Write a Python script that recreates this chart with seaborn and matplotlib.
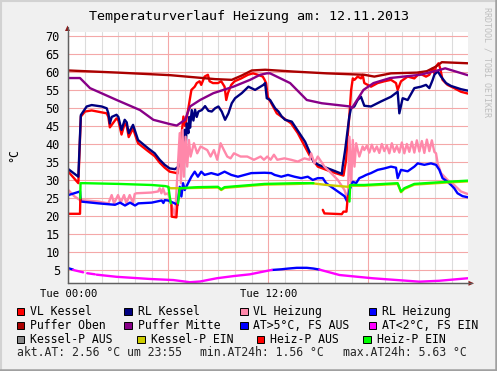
import numpy as np
import pandas as pd
import matplotlib
matplotlib.use("Agg")
import matplotlib.pyplot as plt
import seaborn as sns
from matplotlib.patches import Rectangle, Polygon
from matplotlib.lines import Line2D

nan = np.nan

# ---------------- data (hours since 00:00, temperature °C) ----------------
VL_KESSEL_H = [0, 0.6, 0.75, 1.0, 1.4, 2.3, 2.4, 2.49, 2.89, 3.0, 3.19, 3.38, 3.5, 3.62, 3.88, 4.08, 4.18,
               4.78, 5.18, 5.48, 5.78, 6.08, 6.4, 6.55, 6.65, 6.8, 6.9, 7.0, 7.18, 7.28, 7.38, 7.58, 7.7,
               7.87, 7.97, 8.17, 8.37, 8.47, 8.67, 8.97, 9.17, 9.37, 9.47, 9.57, 9.77, 9.97, 10.37, 10.77,
               11.07, 11.37, 11.66, 11.77, 11.86, 11.96, 12.5, 13.36, 13.76, 14.46, 14.96, 15.76, 16.37,
               16.5, 16.66, 16.75, 16.85, 16.96, 17.06, 17.16, 17.35, 17.55, 17.65, 17.75, 18.15, 18.55,
               18.95, 19.35, 19.65, 19.75, 19.95, 20.35, 20.75, 21.05, 21.45, 21.65, 21.85, 21.95, 22.05,
               22.2, 22.3, 22.44, 22.74, 23.14, 23.54, 23.95]
VL_KESSEL_V = [32.3, 29.1, 47.6, 49.0, 49.3, 48.5, 47.5, 44.6, 47.1, 46.5, 42.6, 45.7, 45.0, 41.9, 44.3, 41.5, 40.2,
               38.0, 36.6, 34.8, 33.4, 32.3, 32.0, 31.8, 36.0, 43.0, 47.6, 45.0, 49.4, 52.2, 55.0, 55.9, 56.9,
               57.4, 56.4, 58.7, 59.2, 57.4, 56.9, 56.9, 57.4, 55.9, 52.2, 54.1, 56.4, 57.4, 58.2, 59.2,
               59.6, 59.2, 58.7, 57.8, 56.9, 53.1, 48.5, 45.7, 43.0, 36.9, 33.7, 32.3, 31.4,
               31.2, 35.6, 42.0, 47.6, 55.0, 58.2, 57.8, 58.7, 58.2, 59.2, 56.9, 55.9, 56.9,
               57.4, 57.8, 56.9, 55.0, 57.4, 58.7, 58.2, 59.6, 58.7, 59.2, 61.0, 59.6, 61.5,
               62.4, 61.0, 57.8, 56.4, 55.5, 54.5, 54.0]

RL_KESSEL_H = [0, 0.6, 0.75, 1.1, 1.4, 2.0, 2.3, 2.4, 2.49, 2.6, 2.89, 3.0, 3.19, 3.38, 3.5, 3.62, 3.88, 4.08,
               4.18, 4.78, 5.18, 5.48, 5.78, 6.08, 6.4, 6.6, 6.7, 6.8, 6.9, 6.98, 7.05, 7.1, 7.2, 7.25, 7.3,
               7.4, 7.5, 7.6, 7.7, 7.8, 8.0, 8.2, 8.4, 8.6, 8.8, 9.0, 9.2, 9.4, 9.6, 9.8, 10.0, 10.4, 10.8,
               11.2, 11.7, 11.8, 11.9, 12.1, 12.4, 12.6, 12.8, 13.0, 13.4, 13.8, 14.2, 14.5, 14.7, 15.0,
               15.8, 16.4, 16.45, 16.6, 16.75, 16.85, 16.95, 17.15, 17.35, 17.55, 17.75, 18.15, 18.75,
               19.35, 19.75, 19.85, 20.05, 20.35, 20.75, 21.15, 21.45, 21.65, 21.85, 21.95, 22.15, 22.35,
               22.65, 22.95, 23.55, 23.95]
RL_KESSEL_V = [33.0, 30.9, 48.0, 50.4, 50.8, 50.4, 49.9, 48.5, 45.7, 47.5, 48.1, 47.5, 43.9, 46.7, 46.0, 43.0, 45.3, 42.5,
               41.1, 38.8, 37.4, 35.6, 34.2, 33.2, 33.0, 33.7, 38.3, 40.2, 41.1, 43.9, 40.0, 45.7, 43.0, 47.5, 44.5,
               49.4, 46.5, 49.5, 47.5, 49.0, 49.4, 50.5, 49.2, 49.0, 49.9, 50.4, 49.0, 46.7, 48.5, 51.3, 52.7, 54.1, 55.9,
               55.0, 56.4, 56.9, 52.7, 52.2, 49.9, 49.0, 47.6, 46.7, 46.2, 43.4, 40.6, 37.4, 35.1, 34.2,
               32.8, 31.7, 33.7, 38.3, 43.9, 47.6, 49.9, 50.4, 52.2, 53.1, 50.6, 50.4, 51.8,
               53.1, 54.5, 48.5, 52.7, 52.2, 55.5, 55.9, 56.4, 55.5, 57.8, 59.2, 60.2, 58.7,
               56.9, 56.1, 55.2, 54.8]

VL_HEIZ_H = [0, 0.35, 0.7, 1.0, 1.8, 2.4, 2.6, 2.74, 2.98, 3.15, 3.34, 3.48, 3.68, 3.88, 3.98, 4.08, 4.98, 5.38,
             5.48, 5.58, 5.68, 5.8, 5.98, 6.1, 6.4, 6.68, 6.75, 6.85, 6.93, 7.03, 7.13, 7.23, 7.33, 7.53, 7.73,
             7.93, 8.33, 8.53, 8.73, 8.93, 9.13, 9.33, 9.53, 9.73, 9.93, 10.33, 10.73, 11.13, 11.53, 11.73,
             11.93, 12.13, 12.33, 12.53, 12.96, 13.36, 13.76, 14.16, 14.46, 14.56, 14.76, 14.96, 15.16, 15.36,
             15.76, 16.16, 16.56, 16.76, 16.86, 16.96, 17.06, 17.16, 17.26, 17.45, 17.65, 17.75, 17.9, 18.05,
             18.2, 18.35, 18.5, 18.65, 18.8, 18.95, 19.1, 19.25, 19.4, 19.55, 19.7, 19.85, 20.0, 20.15, 20.3,
             20.45, 20.6, 20.75, 20.9, 21.05, 21.2, 21.35, 21.5, 21.65, 21.8, 21.95, 22.05, 22.15, 22.35,
             22.74, 23.14, 23.54, 23.95]
VL_HEIZ_V = [27.2, 25.5, 24.4, 24.3, 24.0, 23.5, 25.8, 23.5, 25.8, 23.8, 25.8, 23.5, 25.8, 23.6, 26.1, 26.3, 26.5, 26.8,
             27.7, 26.3, 27.7, 26.0, 26.3, 24.5, 20.0, 43.0, 29.1, 43.9, 30.9, 42.0, 33.7, 41.1, 36.5, 40.2, 37.4,
             39.3, 38.3, 36.5, 38.3, 35.6, 40.2, 38.3, 36.5, 36.0, 37.4, 36.5, 36.5, 35.6, 36.5, 35.6,
             36.5, 35.6, 37.0, 35.6, 36.0, 35.6, 35.1, 36.0, 35.6, 37.4, 34.6, 36.5, 35.1, 33.7,
             31.9, 30.0, 27.2, 24.4, 42.0, 29.1, 41.1, 33.7, 40.2, 36.5, 39.3, 38.3, 39.5, 37.6,
             39.8, 37.9, 39.3, 37.5, 40.0, 38.0, 39.6, 37.4, 40.2, 37.8, 39.4, 37.6, 40.4, 37.4, 40.0,
             37.8, 40.6, 37.6, 41.0, 37.9, 40.8, 37.5, 41.2, 38.0, 41.0, 37.8, 37.4, 34.6, 31.9,
             30.0, 28.6, 26.8, 26.1]

RL_HEIZ_H = [0, 0.7, 0.75, 1.8, 2.8, 3.1, 3.4, 3.7, 4.0, 4.2, 5.0, 5.6, 5.7, 5.78, 5.98, 6.38, 6.55, 6.68, 6.78,
             6.88, 6.98, 7.18, 7.38, 7.58, 7.77, 7.97, 8.17, 8.57, 8.97, 9.37, 9.77, 10.17, 10.57, 10.97, 11.77,
             12.17, 12.37, 12.77, 13.17, 13.56, 13.96, 14.36, 14.66, 14.96, 15.26, 15.46, 15.76, 16.16, 16.56,
             16.72, 16.86, 17.06, 17.26, 17.45, 17.65, 17.86, 18.15, 18.55, 18.95, 19.35, 19.65, 19.75, 19.95,
             20.35, 20.75, 20.95, 21.35, 21.75, 22.05, 22.25, 22.44, 22.74, 22.95, 23.14, 23.34, 23.64, 23.95]
RL_HEIZ_V = [25.8, 26.8, 24.0, 23.5, 23.1, 23.7, 22.9, 23.7, 22.9, 23.5, 23.7, 24.3, 23.6, 24.4, 24.3, 23.5, 23.0, 28.1, 25.4,
             29.1, 27.2, 29.1, 30.9, 32.3, 30.9, 32.3, 31.4, 31.9, 31.4, 32.3, 31.4, 30.9, 31.4, 31.9, 32.0,
             31.9, 31.4, 30.9, 31.4, 30.9, 30.5, 30.9, 30.0, 30.5, 30.5, 29.1, 28.1, 26.8, 25.5,
             24.0, 27.2, 29.5, 29.1, 30.5, 30.9, 31.4, 31.9, 32.8, 33.2, 33.7, 33.4, 30.5, 32.8,
             32.4, 33.7, 34.6, 34.2, 34.6, 34.2, 32.8, 30.5, 29.5, 28.6, 27.7, 26.3, 25.5, 25.2]

PUFFER_OBEN_H = [0, 3.0, 6.1, 8.8, 9.8, 10.4, 11.0, 11.8, 13.5, 15.5, 17.75, 18.35, 19.35, 20.9, 21.5, 22.05, 22.4, 23.95]
PUFFER_OBEN_V = [60.4, 59.8, 59.1, 58.0, 57.8, 59.0, 60.4, 60.6, 60.1, 59.6, 59.2, 58.7, 59.6, 59.8, 60.2, 61.5, 62.7, 62.4]

PUFFER_MITTE_H = [0, 0.7, 1.3, 2.9, 4.3, 5.1, 6.1, 6.5, 7.0, 7.3, 7.9, 8.7, 9.9, 10.9, 11.5, 11.9, 12.1, 13.3, 14.3,
                  15.2, 16.9, 17.0, 17.7, 18.3, 19.3, 21.1, 22.3, 22.6, 23.95]
PUFFER_MITTE_V = [58.3, 58.3, 55.5, 52.2, 49.4, 46.7, 45.5, 45.1, 46.7, 50.4, 52.2, 54.1, 55.9, 57.8, 59.2, 59.6, 59.6, 56.9, 52.2,
                  51.3, 50.4, 49.9, 55.0, 56.9, 58.3, 59.2, 60.6, 61.0, 59.1]

AT_WARM_H = [0, 0.29, nan, 12.2, 12.5, 12.8, 13.2, 13.7, 14.3, 14.7, 15.06]
AT_WARM_V = [5.5, 5.1, nan, 5.0, 5.1, 5.2, 5.4, 5.6, 5.6, 5.4, 5.1]

AT_COLD_H = [0.29, 0.89, nan, 1.13, 1.59, nan, 1.69, 2.9, 4.9, 6.3, 7.3, 7.9, 8.9, 9.9, 10.9, 11.96, 12.2, nan,
             15.06, 16.26, 18.25, 21.05, 22.24, 23.95]
AT_COLD_V = [5.0, 4.35, nan, 4.1, 3.8, nan, 3.7, 3.1, 2.5, 2.2, 1.6, 1.8, 2.7, 3.3, 3.8, 4.8, 5.0, nan,
             5.1, 3.6, 2.7, 1.75, 2.0, 2.7]

KESSELP_EIN_H = [6.0, 6.14, 6.58, 6.68, 7.77, 8.97, 9.17, 9.37, 11.77, 13.76, 14.56, 15.5, 16.76, 16.9, 17.75,
                 19.75, 19.95, 20.15, 20.75, 22.74, 23.95]
KESSELP_EIN_V = [27.9, 27.7, 27.7, 27.7, 27.8, 27.9, 27.2, 27.8, 28.7, 28.9, 29.1, 28.6, 28.1, 28.4, 28.4,
                 28.9, 26.6, 27.5, 28.7, 29.3, 29.6]

HEIZP_AUS_H = [0, 0.7, 0.72, nan, 6.18, 6.2, 6.48, 6.54, nan, 15.26, 15.36, 16.4, 16.5, 16.68, 16.76]
HEIZP_AUS_V = [20.6, 20.6, 24.9, nan, 23.1, 19.8, 19.6, 23.5, nan, 21.7, 20.7, 20.5, 21.2, 21.2, 25.5]

HEIZP_EIN_H = [0.72, 0.73, 1.0, 3.0, 5.0, 5.8, 6.0, 6.14, nan, 6.58, 6.68, 7.77, 8.97, 9.17, 9.37, 11.77, 13.76,
               14.7, nan, 16.86, 16.9, 17.75, 19.75, 19.95, 20.15, 20.75, 22.74, 23.95]
HEIZP_EIN_V = [24.9, 29.1, 29.1, 28.9, 28.6, 28.3, 28.1, 23.5, nan, 23.5, 27.7, 28.0, 28.1, 27.4, 28.0, 28.9, 29.1,
               29.1, nan, 24.0, 28.6, 28.6, 29.1, 26.8, 27.7, 28.9, 29.5, 29.8]

Y_TICKS = [5, 10, 15, 20, 25, 30, 35, 40, 45, 50, 55, 60, 65, 70]
X_TICKS = [0, 12]
X_TICK_LABELS = ["Tue 00:00", "Tue 12:00"]

SERIES = [
    ("VL Kessel", VL_KESSEL_H, VL_KESSEL_V, "#FF0000"),
    ("RL Kessel", RL_KESSEL_H, RL_KESSEL_V, "#000080"),
    ("VL Heizung", VL_HEIZ_H, VL_HEIZ_V, "#FF88AA"),
    ("RL Heizung", RL_HEIZ_H, RL_HEIZ_V, "#0000FF"),
    ("Puffer Oben", PUFFER_OBEN_H, PUFFER_OBEN_V, "#AA0000"),
    ("Puffer Mitte", PUFFER_MITTE_H, PUFFER_MITTE_V, "#880088"),
    ("AT>5°C, FS AUS", AT_WARM_H, AT_WARM_V, "#0000FF"),
    ("AT<2°C, FS EIN", AT_COLD_H, AT_COLD_V, "#FF00FF"),
    ("Kessel-P AUS", [], [], "#888888"),
    ("Kessel-P EIN", KESSELP_EIN_H, KESSELP_EIN_V, "#CCCC00"),
    ("Heiz-P AUS", HEIZP_AUS_H, HEIZP_AUS_V, "#FF0000"),
    ("Heiz-P EIN", HEIZP_EIN_H, HEIZP_EIN_V, "#00FF00"),
]

# ---------------- figure ----------------
sns.set_theme(style="white")
plt.rcParams['font.family'] = ['DejaVu Sans Mono', 'DejaVu Sans']

W, H = 497, 371
BG = "#F0F0F0"
fig = plt.figure(figsize=(W / 100, H / 100), dpi=100, facecolor=BG)


def fx(x):
    return x / W


def fy(y):
    return 1 - y / H


L, R, T, B = 67.5, 467.7, 32.3, 283.3
ax = fig.add_axes([fx(L), fy(B), (R - L) / W, (B - T) / H])
ax.set_facecolor("white")
ax.set_xlim(-0.05, 23.95)
ax.set_ylim(1.3, 71.0)

# grid
ax.set_axisbelow(True)
ax.set_xticks([0, 6, 12, 18])
ax.set_xticklabels([X_TICK_LABELS[0], "", X_TICK_LABELS[1], ""])
ax.set_xticks(list(range(0, 24)), minor=True)
ax.set_yticks(Y_TICKS)
ax.set_yticklabels([str(t) for t in Y_TICKS])
ax.grid(False)
ax.xaxis.grid(True, which="minor", color="#DCDCDC", linewidth=0.8)
ax.xaxis.grid(True, which="major", color="#F4A8A8", linewidth=0.8)
ax.yaxis.grid(True, which="major", color="#F4A8A8", linewidth=0.8)
ax.tick_params(axis="both", which="both", length=0)
ax.tick_params(axis="y", pad=5.5, labelsize=8.6, labelcolor="#000000")
ax.tick_params(axis="x", pad=4.0, labelsize=7.6, labelcolor="#000000")
for s in ["top", "right"]:
    ax.spines[s].set_visible(False)
for s in ["left", "bottom"]:
    ax.spines[s].set_color("#606060")
    ax.spines[s].set_linewidth(0.9)

# data lines
for name, hh, vv, col in SERIES:
    if len(hh) == 0:
        continue
    vv = np.asarray(vv, dtype=float)
    hh = np.asarray(hh, dtype=float)
    seg = np.cumsum(np.isnan(vv))
    df = pd.DataFrame({"h": hh, "v": vv, "seg": seg}).dropna()
    sns.lineplot(data=df, x="h", y="v", units="seg", estimator=None, sort=False,
                 color=col, linewidth=1.7, ax=ax, legend=False)
ax.set_xlabel("")
ax.set_ylabel("")

# axis arrows
arrow_col = "#8B1A1A"
fig.add_artist(Line2D([fx(L), fx(L)], [fy(B), fy(27)], color="#606060", lw=0.9))
fig.add_artist(Line2D([fx(L), fx(472)], [fy(B), fy(B)], color="#606060", lw=0.9))
fig.add_artist(Polygon([[fx(L - 2.5), fy(31)], [fx(L + 2.5), fy(31)], [fx(L), fy(25.5)]],
                       closed=True, color=arrow_col, lw=0))
fig.add_artist(Polygon([[fx(468.5), fy(B - 2.5)], [fx(468.5), fy(B + 2.5)], [fx(474), fy(B)]],
                       closed=True, color=arrow_col, lw=0))

# frame
fig.add_artist(Line2D([0, 1], [fy(0.8), fy(0.8)], color="#D2D2D2", lw=1.5))
fig.add_artist(Line2D([fx(0.8), fx(0.8)], [0, 1], color="#D2D2D2", lw=1.5))
fig.add_artist(Line2D([0, 1], [fy(370.0), fy(370.0)], color="#A0A0A0", lw=1.8))
fig.add_artist(Line2D([fx(496.0), fx(496.0)], [0, 1], color="#A0A0A0", lw=1.8))

# title and labels
fig.text(fx(249), fy(16.5), "Temperaturverlauf Heizung am: 12.11.2013", ha="center", va="center",
         fontsize=9.6, color="#000000")
fig.text(fx(14), fy(155), "°C", ha="center", va="center", rotation=90, fontsize=8.4, color="#000000")
fig.text(fx(486.7), fy(62), "RRDTOOL / TOBI OETIKER", ha="center", va="center", rotation=270,
         fontsize=6.0, color="#BEBEBE")

# legend
leg_rows = [311.7, 325.3, 339.3]
leg_pos = [
    [16.7, 124.0, 240.0, 368.7],
    [16.7, 124.0, 240.0, 368.7],
    [16.7, 137.3, 256.7, 363.3],
]
k = 0
for r, yy in enumerate(leg_rows):
    for c in range(4):
        name, _, _, col = SERIES[k]
        xb = leg_pos[r][c]
        box = 7.5
        fig.add_artist(Rectangle((fx(xb), fy(yy + box / 2)), box / W, box / H, facecolor=col,
                                 edgecolor="#000000", linewidth=0.7))
        fig.text(fx(xb + 13.5), fy(yy), name, ha="left", va="center", fontsize=8.3, color="#000000")
        k += 1

fig.text(fx(16.7), fy(352.7), "akt.AT: 2.56 °C um 23:55", ha="left", va="center", fontsize=8.3)
fig.text(fx(200.0), fy(352.7), "min.AT24h: 1.56 °C", ha="left", va="center", fontsize=8.3)
fig.text(fx(343.3), fy(352.7), "max.AT24h: 5.63 °C", ha="left", va="center", fontsize=8.3)

fig.savefig("out.png", dpi=100, facecolor=BG)
